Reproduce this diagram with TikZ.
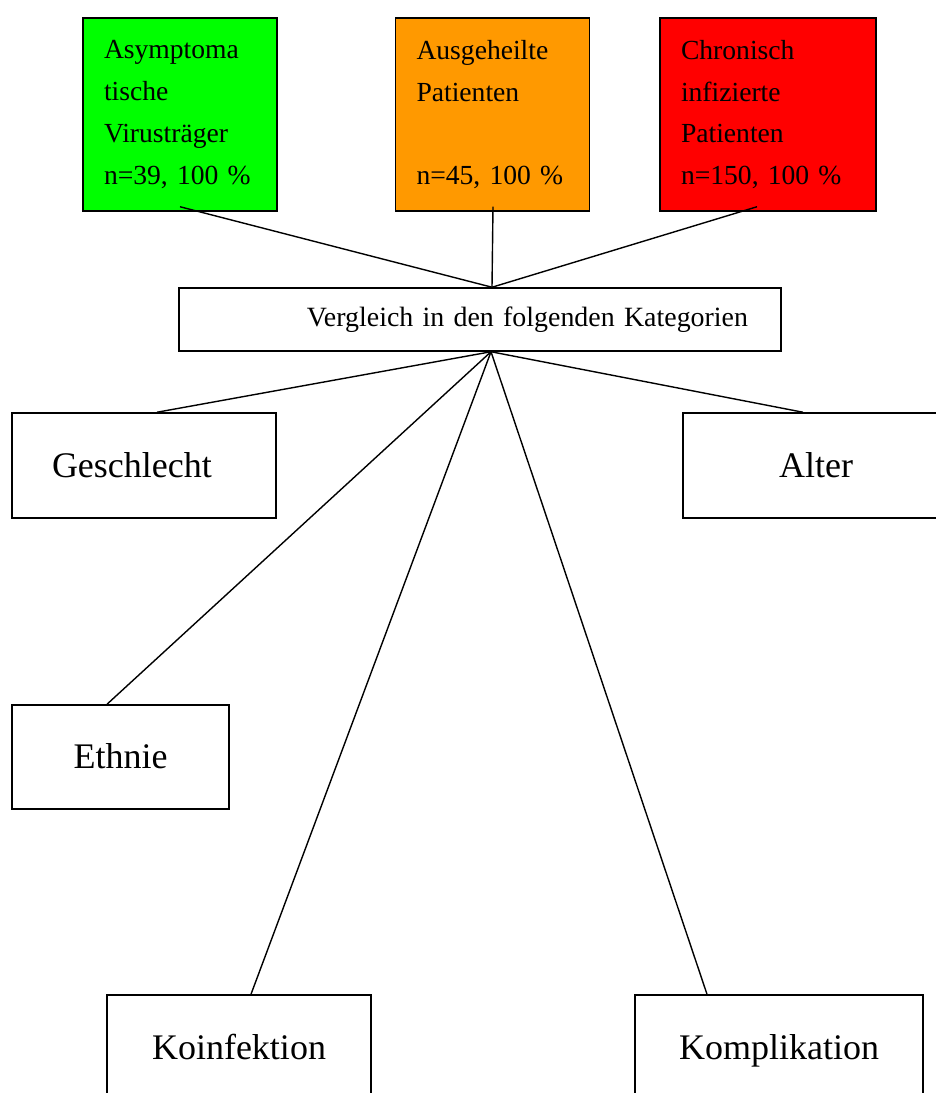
\documentclass[tikz,border=0pt]{standalone}
\usepackage{fontspec}
\setmainfont{Liberation Serif}

\begin{document}
\begin{tikzpicture}[x=1pt,y=1pt,
  groupbox/.style={draw=black,line width=1.5pt,minimum height=193pt,text width=152pt,
    inner xsep=21pt,inner ysep=0pt,align=left,font=\fontsize{27.6}{41.7}\selectfont},
  midbox/.style={draw=black,line width=1.5pt,minimum width=602pt,minimum height=63pt,
    text width=536pt,inner xsep=33pt,align=right,font=\fontsize{27.9}{33}\selectfont},
  catbox/.style={draw=black,line width=1.5pt,minimum height=105pt,inner sep=0pt,
    text height=30pt,text depth=6pt,font=\fontsize{36}{40}\selectfont},
  link/.style={draw=black,line width=1.4pt}]
\definecolor{greenColor}{RGB}{0,255,0}
\definecolor{orangeColor}{RGB}{255,153,0}
\definecolor{redColor}{RGB}{255,0,0}
\useasboundingbox (0,0) rectangle (936,1093);
\clip (0,0) rectangle (936,1093);

% three groups
\node[groupbox,fill=greenColor] (asym) at (180,978.5) {Asymptoma\\tische\\Virusträger\\n=39,~100~\%};
\node[groupbox,fill=orangeColor] (healed) at (492.5,978.5) {Ausgeheilte\\Patienten\\\mbox{}\\ n=45,~100~\%};
\node[groupbox,fill=redColor,text width=174pt] (chronic) at (768,978.5) {Chronisch\\infizierte\\Patienten\\ n=150,~100~\%};

% comparison
\node[midbox] (compare) at (480,773.5) {Vergleich in den folgenden Kategorien};

% categories
\node[catbox,text width=184pt,inner xsep=40pt,align=left] (sex) at (144,627.5) {Geschlecht};
\node[catbox,minimum width=266pt] (age) at (816,627.5) {Alter};
\node[catbox,minimum width=217pt,minimum height=104pt] (ethn) at (120.5,336) {Ethnie};
\node[catbox,minimum width=264pt] (coinf) at (239,45.5) {Koinfektion};
\node[catbox,minimum width=288pt] (compl) at (779,45.5) {Komplikation};

\draw[link] ([yshift=5pt]asym.south) -- ([xshift=12pt]compare.north);
\draw[link] ([xshift=0.5pt,yshift=5pt]healed.south) -- ([xshift=12pt]compare.north);
\draw[link] ([xshift=-11pt,yshift=5pt]chronic.south) -- ([xshift=12pt]compare.north);

\draw[link] ([xshift=11pt]compare.south) -- ([xshift=13pt]sex.north);
\draw[link] ([xshift=11pt]compare.south) -- ([xshift=-13pt]age.north);
\draw[link] ([xshift=11pt]compare.south) -- ([xshift=-13.5pt]ethn.north);
\draw[link] ([xshift=11pt]compare.south) -- ([xshift=12pt]coinf.north);
\draw[link] ([xshift=11pt]compare.south) -- ([xshift=-72pt]compl.north);
\end{tikzpicture}
\end{document}
